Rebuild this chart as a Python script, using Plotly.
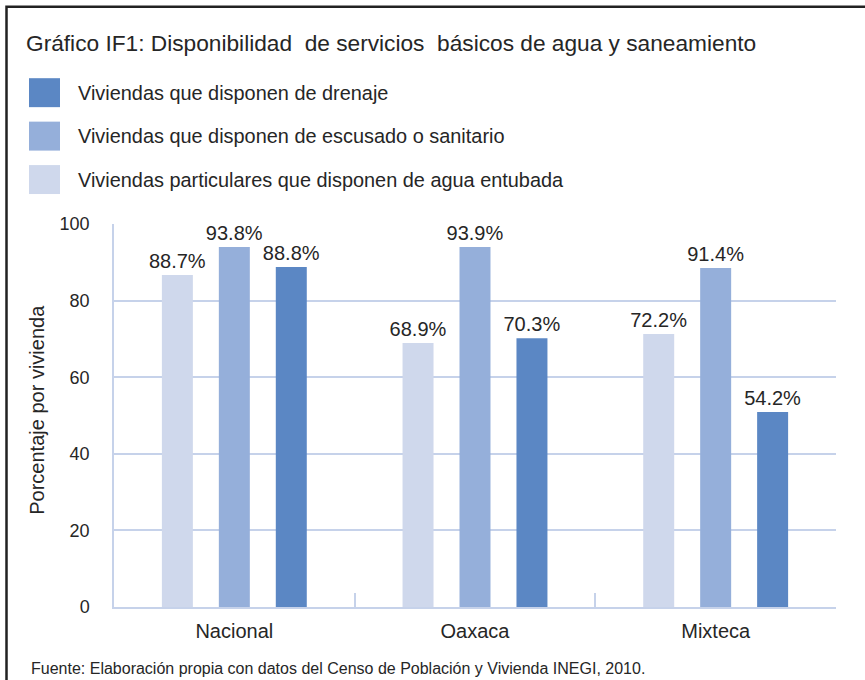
import plotly.graph_objects as go

categories = ["Nacional", "Oaxaca", "Mixteca"]
series_names = [
    "Viviendas particulares que disponen de agua entubada",
    "Viviendas que disponen de escusado o sanitario",
    "Viviendas que disponen de drenaje",
]
agua_heights = [86.7, 68.9, 71.3]
escusado_heights = [94.0, 94.0, 88.5]
drenaje_heights = [88.8, 70.2, 50.9]
agua_labels = ["88.7%", "68.9%", "72.2%"]
escusado_labels = ["93.8%", "93.9%", "91.4%"]
drenaje_labels = ["88.8%", "70.3%", "54.2%"]
y_ticks = [0, 20, 40, 60, 80, 100]

colors = ["#CFD8EC", "#95AFDA", "#5B87C4"]
W, H = 865, 680
L, R, T, B = 114, 836, 224, 607.5

def px(x):
    return (x - L) / (R - L)

def py(y):
    return (B - y) / (B - T)

FONT = "Liberation Sans, Arial, sans-serif"
TXT = "#262626"

fig = go.Figure()
for name, h, lab, c in zip(series_names,
                           [agua_heights, escusado_heights, drenaje_heights],
                           [agua_labels, escusado_labels, drenaje_labels],
                           colors):
    fig.add_trace(go.Bar(
        x=categories, y=h, name=name, marker=dict(color=c, line=dict(width=0)),
        text=lab, textposition="outside", constraintext="none",
        textfont=dict(family=FONT, size=20, color=TXT), cliponaxis=False,
        showlegend=False,
    ))

shapes = [dict(type="rect", xref="paper", yref="paper",
               x0=px(6.5), x1=px(900), y0=py(700), y1=py(6.5),
               line=dict(color="#222222", width=2.5), fillcolor="rgba(0,0,0,0)", layer="below")]
annotations = []
legend_order = [2, 1, 0]
legend_y = [92.5, 136, 179.5]
for idx, yc in zip(legend_order, legend_y):
    shapes.append(dict(type="rect", xref="paper", yref="paper",
                       x0=px(29), x1=px(60), y0=py(yc + 14.5), y1=py(yc - 14.5),
                       line=dict(width=0), fillcolor=colors[idx]))
    annotations.append(dict(xref="paper", yref="paper", x=px(76), y=py(yc),
                            text=series_names[idx], showarrow=False, xanchor="left", yanchor="middle",
                            font=dict(family=FONT, size=19.9, color=TXT)))

annotations.append(dict(xref="paper", yref="paper", x=px(24), y=py(43),
                        text="Gráfico IF1: Disponibilidad&nbsp; de servicios&nbsp; básicos de agua y saneamiento",
                        showarrow=False, xanchor="left", yanchor="middle",
                        font=dict(family=FONT, size=22.7, color=TXT)))
annotations.append(dict(xref="paper", yref="paper", x=px(29), y=py(669),
                        text="Fuente: Elaboración propia con datos del Censo de Población y Vivienda INEGI, 2010.",
                        showarrow=False, xanchor="left", yanchor="middle",
                        font=dict(family=FONT, size=16, color=TXT)))
annotations.append(dict(xref="paper", yref="paper", x=px(37), y=py(410),
                        text="Porcentaje por vivienda", textangle=-90,
                        showarrow=False, xanchor="center", yanchor="middle",
                        font=dict(family=FONT, size=20, color=TXT)))

fig.update_layout(
    width=W, height=H,
    margin=dict(l=L, r=W - R, t=T, b=H - B, pad=0),
    paper_bgcolor="white", plot_bgcolor="white",
    barmode="group", bargap=0.29, bargroupgap=0.456,
    shapes=shapes, annotations=annotations,
    xaxis=dict(showgrid=False, showline=True, linecolor="#C6D2EA", linewidth=2,
               ticks="inside", tickson="boundaries", ticklen=14, tickcolor="#C6D2EA", tickwidth=1.5,
               tickfont=dict(family=FONT, size=20, color=TXT), ticklabelstandoff=5),
    yaxis=dict(range=[0, 100], tickvals=y_ticks, showgrid=True, gridcolor="#C6D2EA", gridwidth=1.5,
               zeroline=False, showline=True, linecolor="#C6D2EA", linewidth=1.5,
               ticks="", tickfont=dict(family=FONT, size=18, color=TXT), ticklabelstandoff=19),
)

fig.write_html("out.html", config={"displayModeBar": False},
               post_script="document.body.style.margin='0';document.body.style.overflow='hidden';")
